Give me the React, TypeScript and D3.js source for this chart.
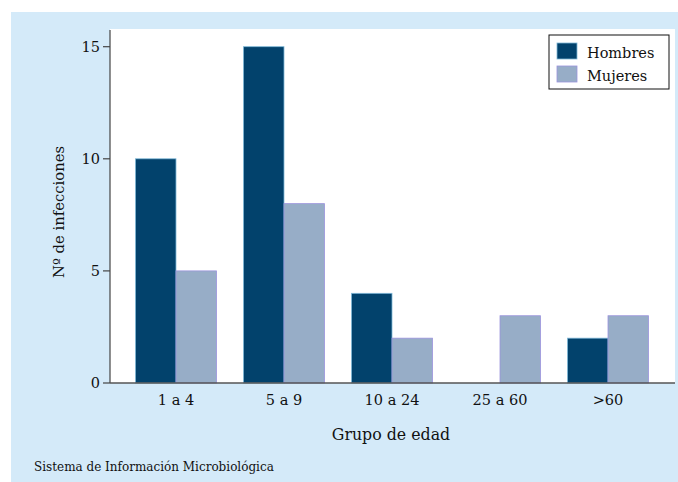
import React from "react";
import * as d3 from "d3";

const categories = ["1 a 4", "5 a 9", "10 a 24", "25 a 60", ">60"];
const hombres = [10, 15, 4, 0, 2];
const mujeres = [5, 8, 2, 3, 3];
const yTicks = [0, 5, 10, 15];
const seriesNames = ["Hombres", "Mujeres"];

const W = 678, H = 482;
const FONT = "'DejaVu Serif', serif";
const colors = { Hombres: "#02426c", Mujeres: "#97adc7" };
const strokes = { Hombres: "#7fb8d8", Mujeres: "#9b93dd" };

export default function App() {
  const left = 110, right = 675, top = 29, bottom = 383;
  const x = d3.scaleBand().domain(categories).range([left, 674]).paddingInner(0.25).paddingOuter(0.236);
  const y = d3.scaleLinear().domain([0, 15]).range([bottom, 46.7]);
  const bw = x.bandwidth() / 2;
  return (
    <svg width={W} height={H} style={{ position: "absolute", left: 0, top: 0 }} fontFamily={FONT}>
      <rect x={11} y={12} width={W - 11} height={H - 12} fill="#d4eaf9" />
      <rect x={left} y={top} width={right - left} height={bottom - top} fill="#ffffff" />
      {categories.map((c, i) => {
        const x0 = x(c)!;
        const h = hombres[i], m = mujeres[i];
        return (
          <g key={c}>
            {h > 0 && (
              <rect x={x0} y={y(h)} width={bw} height={y(0) - y(h)} fill={colors.Hombres} stroke={strokes.Hombres} strokeWidth={0.8} />
            )}
            {m > 0 && (
              <rect x={x0 + bw} y={y(m)} width={bw} height={y(0) - y(m)} fill={colors.Mujeres} stroke={strokes.Mujeres} strokeWidth={0.8} />
            )}
            <text x={x0 + bw} y={405} textAnchor="middle" fontSize={14.5} fill="#111">{c}</text>
          </g>
        );
      })}
      <line x1={left} x2={left} y1={30} y2={bottom} stroke="#444" strokeWidth={1.2} />
      <line x1={left} x2={right} y1={bottom} y2={bottom} stroke="#555" strokeWidth={1.5} />
      {yTicks.map((t) => (
        <g key={t}>
          <line x1={103} x2={left} y1={y(t)} y2={y(t)} stroke="#444" strokeWidth={1.2} />
          <text x={100} y={y(t) + 5} textAnchor="end" fontSize={14.5} fill="#111">{t}</text>
        </g>
      ))}
      <text transform={`translate(64,${(top + bottom) / 2 + 6}) rotate(-90)`} textAnchor="middle" fontSize={14.8} fill="#111">Nº de infecciones</text>
      <text x={391} y={440} textAnchor="middle" fontSize={15.8} fill="#111">Grupo de edad</text>
      <text x={34} y={471} fontSize={12} fill="#111">Sistema de Información Microbiológica</text>
      <g>
        <rect x={549} y={35} width={120} height={54} fill="#fff" stroke="#111" strokeWidth={1} />
        {seriesNames.map((s, i) => (
          <g key={s}>
            <rect x={557} y={43 + i * 23} width={20} height={16} fill={colors[s as "Hombres"]} stroke={strokes[s as "Hombres"]} strokeWidth={0.8} />
            <text x={587} y={58 + i * 23} fontSize={14.5} fill="#111">{s}</text>
          </g>
        ))}
      </g>
    </svg>
  );
}
